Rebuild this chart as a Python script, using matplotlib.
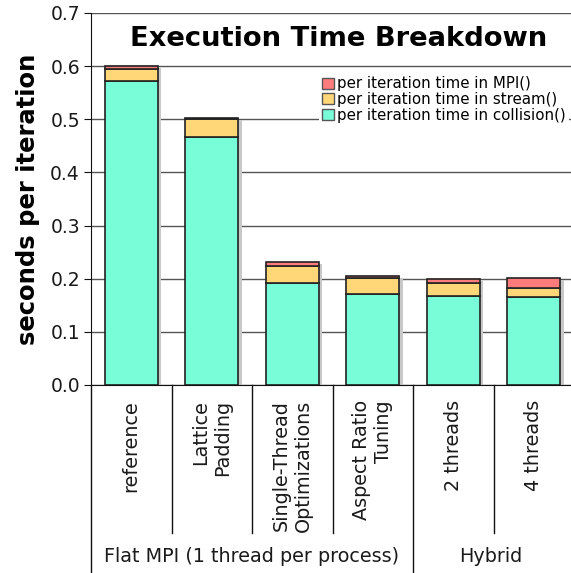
import numpy as np
import matplotlib

matplotlib.use("Agg")
import matplotlib.pyplot as plt
from matplotlib.patches import Patch

# valores (segundos por iteração)
configs = ["reference", "Lattice\nPadding", "Single-Thread\nOptimizations",
           "Aspect Ratio\nTuning", "2 threads", "4 threads"]
collision = [0.572, 0.467, 0.192, 0.171, 0.167, 0.166]
stream = [0.023, 0.033, 0.031, 0.030, 0.024, 0.017]
mpi = [0.005, 0.002, 0.009, 0.005, 0.008, 0.018]
groups = ["Flat MPI (1 thread per process)", "Hybrid"]
group_sizes = [4, 2]

C_COLL = "#78FDD8"
C_STREAM = "#FFD678"
C_MPI = "#FF7C7C"
SHADOW = "#c8c8c8"
GRID = "#555555"
TXT = "#1a1a1a"

plt.rcParams.update({
    "font.family": "DejaVu Sans",
    "font.size": 12,
})

fig = plt.figure(figsize=(5.71, 5.73), dpi=100)
ax = fig.add_axes([91 / 571, 188 / 573, 483 / 571, 372 / 573])

x = np.arange(len(configs))
w = 0.66
coll = np.array(collision)
strm = np.array(stream)
mp = np.array(mpi)
total = coll + strm + mp

# sombra atrás das barras
ax.bar(x + 0.045, total - 0.004, w, color=SHADOW, zorder=1, linewidth=0)
ax.bar(x, coll, w, color=C_COLL, edgecolor="#222", linewidth=1.2, zorder=2,
       label="per iteration time in collision()")
ax.bar(x, strm, w, bottom=coll, color=C_STREAM, edgecolor="#222", linewidth=1.2,
       zorder=2, label="per iteration time in stream()")
ax.bar(x, mp, w, bottom=coll + strm, color=C_MPI, edgecolor="#222", linewidth=1.2,
       zorder=2, label="per iteration time in MPI()")

ax.set_xlim(-0.5, len(configs) - 0.5)
ax.set_ylim(0, 0.7)
ax.set_yticks(np.arange(0, 0.71, 0.1))
ax.set_yticklabels([f"{v:.1f}" for v in np.arange(0, 0.71, 0.1)], fontsize=13.5,
                   color=TXT)
ax.yaxis.grid(True, color=GRID, linewidth=1.0)
ax.set_axisbelow(True)
ax.set_xticks([])
for s in ("top", "right"):
    ax.spines[s].set_visible(False)
ax.spines["left"].set_color("#111")
ax.spines["bottom"].set_color("#111")
ax.tick_params(axis="y", length=5, color="#111", pad=3)

ax.set_ylabel("seconds per iteration", fontsize=17.5, fontweight="bold", labelpad=7)
ax.text(0.5 * (len(configs) - 1) + 0.07, 0.652, "Execution Time Breakdown",
        ha="center", va="center", fontsize=19.7, fontweight="bold")

# rótulos das configurações (verticais) abaixo do eixo
tr = ax.get_xaxis_transform()
for i, lab in enumerate(configs):
    ax.text(i, -0.04, lab, transform=tr, rotation=90, ha="center", va="top",
            multialignment="right", fontsize=13.8, color=TXT)

# separadores entre categorias e grupos
edges = np.cumsum([0] + group_sizes)
for k in range(len(configs) + 1):
    if k in edges:
        y0 = -0.51
    else:
        y0 = -0.398
    ax.plot([k - 0.5, k - 0.5], [0, y0], transform=tr, color="#111", lw=1,
            clip_on=False)
for g, name in enumerate(groups):
    cx = (edges[g] + edges[g + 1]) / 2 - 0.5
    if g == len(groups) - 1:
        cx -= 0.03
    ax.text(cx, -0.462, name, transform=tr, ha="center", va="center", fontsize=13.8,
            color=TXT)

handles = [Patch(facecolor=C_MPI, edgecolor="#555", label="per iteration time in MPI()"),
           Patch(facecolor=C_STREAM, edgecolor="#555", label="per iteration time in stream()"),
           Patch(facecolor=C_COLL, edgecolor="#555", label="per iteration time in collision()")]
leg = ax.legend(handles=handles, loc="upper right", bbox_to_anchor=(0.99, 0.84),
                fontsize=10.8, frameon=True, fancybox=False, framealpha=1,
                edgecolor="none", facecolor="white", handlelength=0.75,
                handleheight=0.75, handletextpad=0.2, labelspacing=0.05,
                borderpad=0.25, borderaxespad=0)
leg.set_zorder(5)

fig.savefig("out.png", dpi=100)
